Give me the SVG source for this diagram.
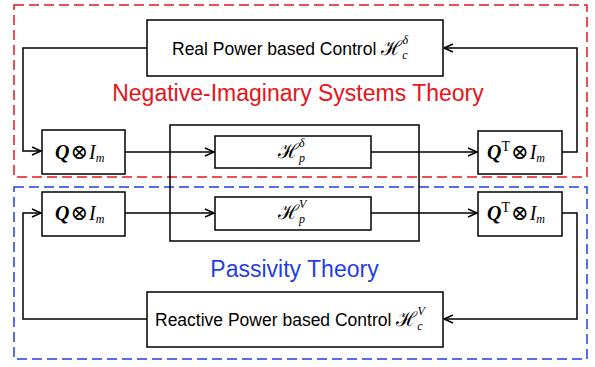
<svg xmlns="http://www.w3.org/2000/svg" width="595" height="367" viewBox="0 0 595 367">
<style>
.box{fill:#fff;stroke:#000;stroke-width:1.5}
.big{fill:none;stroke:#000;stroke-width:1.5}
.line{fill:none;stroke:#000;stroke-width:1.5}
.lbl{font-family:"Liberation Sans",Arial,sans-serif;font-size:17.5px;fill:#000}
.m{font-family:"Liberation Serif","DejaVu Serif",serif;font-size:20px;fill:#000}
.cal{font-family:"DejaVu Serif","Liberation Serif",serif;font-size:20px}
.it{font-style:italic}
.bi{font-style:italic;font-weight:bold}
.ot{font-family:"DejaVu Serif",serif;font-size:21px;font-weight:normal}
.s{font-family:"Liberation Serif","DejaVu Serif",serif;font-style:italic;font-size:12px}
.theory{font-family:"Liberation Sans",Arial,sans-serif;font-size:23px}
</style>
<defs>
<marker id="arr" markerWidth="12" markerHeight="10" refX="10" refY="5" orient="auto" markerUnits="userSpaceOnUse">
<path d="M1,1 L10,5 L1,9" fill="none" stroke="#000" stroke-width="1.5"/>
</marker>
</defs>
<rect x="14" y="5" width="573" height="172" fill="none" stroke="#e8141b" stroke-width="1.5" stroke-dasharray="10,5"/>
<rect x="14" y="187" width="573" height="172" fill="none" stroke="#1f3fe8" stroke-width="1.5" stroke-dasharray="10,5"/>
<g id="plant">
<rect class="big" x="170" y="125" width="249" height="116"/>
</g>
<g id="connectors">
<polyline class="line" points="147,48 23,48 23,151 41,151" marker-end="url(#arr)"/>
<line class="line" x1="125" y1="152" x2="214" y2="152" marker-end="url(#arr)"/>
<line class="line" x1="371" y1="152" x2="477" y2="152" marker-end="url(#arr)"/>
<polyline class="line" points="562,152 577,152 577,48 444,48" marker-end="url(#arr)"/>
<polyline class="line" points="147,319 23,319 23,213 41,213" marker-end="url(#arr)"/>
<line class="line" x1="125" y1="213" x2="214" y2="213" marker-end="url(#arr)"/>
<line class="line" x1="371" y1="213" x2="477" y2="213" marker-end="url(#arr)"/>
<polyline class="line" points="562,213 577,213 577,319 444,319" marker-end="url(#arr)"/>
</g>
<g id="hc_delta">
<rect class="box" x="147" y="20" width="296" height="56"/>
<text class="lbl" x="172" y="55">Real Power based Control <tspan class="cal">ℋ</tspan><tspan class="s" dy="4">c</tspan><tspan class="s" dx="-5" dy="-15">δ</tspan></text>
</g>
<g id="hc_v">
<rect class="box" x="147" y="292" width="296" height="55"/>
<text class="lbl" x="155" y="326">Reactive Power based Control <tspan class="cal">ℋ</tspan><tspan class="s" dy="4">c</tspan><tspan class="s" dx="-5" dy="-15">V</tspan></text>
</g>
<text class="theory" x="298" y="101" text-anchor="middle" fill="#e8141b">Negative-Imaginary Systems Theory</text>
<text class="theory" x="294.5" y="277" text-anchor="middle" fill="#1f3fe8">Passivity Theory</text>
<g id="q1">
<rect class="box" x="42" y="130" width="83" height="44"/>
<text class="m" x="55" y="159"><tspan class="bi">Q</tspan><tspan class="ot" dx="1">⊗</tspan><tspan class="it" dx="1">I</tspan><tspan class="s" font-size="14" dy="3">m</tspan></text>
</g>
<g id="q2">
<rect class="box" x="42" y="192" width="83" height="44"/>
<text class="m" x="55" y="220"><tspan class="bi">Q</tspan><tspan class="ot" dx="1">⊗</tspan><tspan class="it" dx="1">I</tspan><tspan class="s" font-size="14" dy="3">m</tspan></text>
</g>
<g id="hp_delta">
<rect class="box" x="215" y="136" width="156" height="32"/>
<text class="m" x="278" y="158"><tspan class="cal">ℋ</tspan><tspan class="s" dy="4">p</tspan><tspan class="s" dx="-6" dy="-15">δ</tspan></text>
</g>
<g id="hp_v">
<rect class="box" x="215" y="197" width="156" height="33"/>
<text class="m" x="278" y="219"><tspan class="cal">ℋ</tspan><tspan class="s" dy="4">p</tspan><tspan class="s" dx="-6" dy="-15">V</tspan></text>
</g>
<g id="qt1">
<rect class="box" x="478" y="131" width="84" height="43"/>
<text class="m" x="487" y="159"><tspan class="bi">Q</tspan><tspan font-size="14" dy="-8">T</tspan><tspan class="ot" dx="1" dy="8">⊗</tspan><tspan class="it" dx="1">I</tspan><tspan class="s" font-size="14" dy="3">m</tspan></text>
</g>
<g id="qt2">
<rect class="box" x="478" y="192" width="84" height="44"/>
<text class="m" x="487" y="220"><tspan class="bi">Q</tspan><tspan font-size="14" dy="-8">T</tspan><tspan class="ot" dx="1" dy="8">⊗</tspan><tspan class="it" dx="1">I</tspan><tspan class="s" font-size="14" dy="3">m</tspan></text>
</g>
</svg>
